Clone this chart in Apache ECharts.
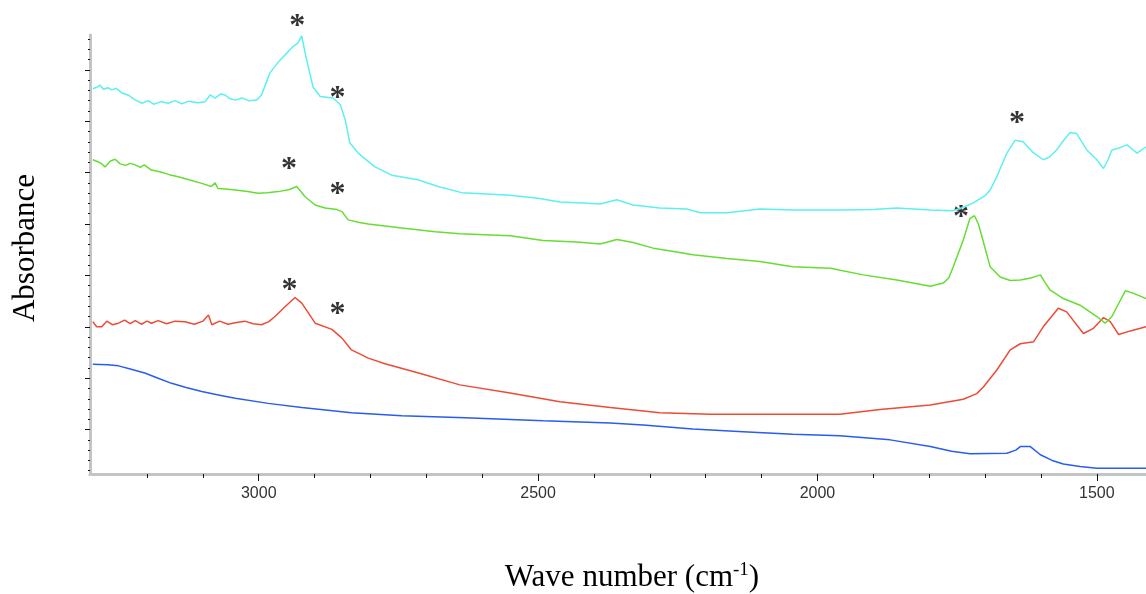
<!DOCTYPE html>
<html>
<head>
<meta charset="utf-8">
<script src="https://cdn.jsdelivr.net/npm/echarts@6/dist/echarts.min.js"></script>
<style>
html,body{margin:0;padding:0;background:#fff;}
#chart{width:1146px;height:594px;}
</style>
</head>
<body>
<div id="chart"></div>
<script>
// Wave number (cm-1), absorbance (arbitrary units, offset traces)
const cyanData = [[3297,0.763],[3290,0.766],[3284,0.770],[3278,0.762],[3270,0.765],[3263,0.761],[3255,0.764],[3245,0.755],[3232,0.750],[3222,0.742],[3209,0.735],[3198,0.740],[3188,0.733],[3175,0.738],[3162,0.735],[3150,0.740],[3138,0.734],[3125,0.739],[3110,0.736],[3096,0.738],[3087,0.751],[3078,0.745],[3068,0.753],[3060,0.751],[3052,0.744],[3042,0.741],[3030,0.745],[3018,0.740],[3004,0.741],[2995,0.751],[2980,0.794],[2965,0.815],[2953,0.829],[2939,0.845],[2930,0.852],[2923,0.866],[2917,0.833],[2910,0.800],[2903,0.767],[2890,0.748],[2867,0.745],[2854,0.732],[2845,0.702],[2837,0.658],[2822,0.638],[2792,0.611],[2762,0.595],[2715,0.586],[2679,0.573],[2637,0.561],[2600,0.559],[2550,0.556],[2500,0.550],[2461,0.543],[2420,0.541],[2389,0.539],[2359,0.547],[2330,0.537],[2282,0.531],[2234,0.529],[2210,0.522],[2162,0.522],[2130,0.526],[2103,0.529],[2044,0.527],[1960,0.527],[1900,0.528],[1858,0.531],[1798,0.527],[1757,0.526],[1740,0.532],[1721,0.541],[1700,0.555],[1691,0.566],[1679,0.592],[1661,0.638],[1646,0.663],[1632,0.660],[1615,0.640],[1596,0.625],[1585,0.630],[1572,0.644],[1560,0.662],[1548,0.678],[1536,0.676],[1518,0.644],[1500,0.625],[1488,0.608],[1480,0.625],[1473,0.644],[1460,0.648],[1446,0.654],[1436,0.645],[1428,0.638],[1412,0.650]];

const greenData = [[3297,0.625],[3290,0.622],[3282,0.618],[3275,0.611],[3266,0.622],[3257,0.626],[3248,0.617],[3238,0.614],[3230,0.618],[3221,0.615],[3212,0.610],[3205,0.615],[3192,0.605],[3175,0.601],[3160,0.596],[3144,0.592],[3125,0.586],[3102,0.579],[3085,0.573],[3078,0.580],[3073,0.569],[3060,0.568],[3042,0.566],[3020,0.563],[3001,0.560],[2985,0.561],[2965,0.563],[2945,0.567],[2932,0.573],[2917,0.553],[2899,0.537],[2881,0.531],[2860,0.528],[2851,0.524],[2840,0.508],[2820,0.503],[2804,0.500],[2744,0.492],[2684,0.485],[2640,0.481],[2550,0.477],[2491,0.468],[2430,0.465],[2389,0.461],[2359,0.470],[2330,0.464],[2294,0.453],[2260,0.447],[2223,0.440],[2162,0.433],[2103,0.427],[2044,0.417],[1977,0.414],[1918,0.401],[1858,0.391],[1798,0.379],[1775,0.385],[1765,0.395],[1757,0.417],[1739,0.469],[1727,0.511],[1719,0.516],[1712,0.500],[1704,0.469],[1691,0.417],[1673,0.397],[1655,0.390],[1637,0.391],[1618,0.395],[1601,0.401],[1592,0.385],[1584,0.372],[1560,0.355],[1530,0.342],[1500,0.320],[1485,0.307],[1473,0.320],[1464,0.339],[1449,0.370],[1434,0.365],[1412,0.355]];

const redData = [[3297,0.310],[3290,0.300],[3281,0.300],[3272,0.311],[3262,0.304],[3251,0.307],[3240,0.313],[3230,0.306],[3221,0.312],[3210,0.305],[3200,0.311],[3192,0.307],[3180,0.312],[3165,0.306],[3150,0.311],[3132,0.310],[3115,0.305],[3100,0.311],[3090,0.323],[3084,0.304],[3070,0.311],[3055,0.305],[3042,0.308],[3025,0.311],[3010,0.306],[2995,0.304],[2982,0.310],[2971,0.320],[2953,0.339],[2935,0.357],[2923,0.346],[2910,0.325],[2899,0.307],[2869,0.295],[2851,0.278],[2834,0.255],[2804,0.239],[2774,0.228],[2714,0.210],[2640,0.187],[2550,0.171],[2461,0.154],[2371,0.143],[2282,0.133],[2192,0.130],[2103,0.130],[1960,0.130],[1888,0.139],[1798,0.148],[1739,0.159],[1715,0.170],[1703,0.183],[1679,0.216],[1655,0.255],[1637,0.267],[1613,0.271],[1596,0.300],[1569,0.336],[1554,0.329],[1524,0.287],[1506,0.297],[1488,0.318],[1476,0.310],[1461,0.285],[1440,0.292],[1412,0.300]];

const blueData = [[3297,0.227],[3270,0.226],[3251,0.224],[3230,0.218],[3204,0.210],[3180,0.200],[3156,0.190],[3130,0.182],[3102,0.174],[3070,0.167],[3042,0.161],[2983,0.151],[2923,0.143],[2834,0.133],[2744,0.127],[2631,0.123],[2491,0.117],[2371,0.113],[2312,0.109],[2223,0.101],[2133,0.096],[2044,0.091],[1960,0.088],[1870,0.080],[1798,0.067],[1760,0.058],[1727,0.053],[1661,0.054],[1645,0.060],[1637,0.067],[1619,0.067],[1601,0.051],[1580,0.040],[1560,0.033],[1530,0.028],[1500,0.025],[1412,0.025]];

// peak markers (*)
const starMarks = [[2931,0.893],[2859,0.753],[1643,0.704],[2946,0.615],[2859,0.566],[1743,0.521],[2945,0.380],[2859,0.333]];

const xMajorTicks = [1500,2000,2500,3000];
const xMinorTicks = [1600,1700,1800,1900,2100,2200,2300,2400,2600,2700,2800,2900,3100,3200];
const yMajorTicks = [0.1,0.2,0.3,0.4,0.5,0.6,0.7,0.8];
const yMinorTicks = [0.02,0.04,0.06,0.08,0.12,0.14,0.16,0.18,0.22,0.24,0.26,0.28,0.32,0.34,0.36,0.38,0.42,0.44,0.46,0.48,0.52,0.54,0.56,0.58,0.62,0.64,0.66,0.68,0.72,0.74,0.76,0.78,0.82,0.84,0.86];

const X_MIN = 1412, X_MAX = 3302, Y_MIN = 0.0136, Y_MAX = 0.8677;

const chart = echarts.init(document.getElementById('chart'), null, {renderer:'canvas'});

function lineSeries(data, color){
  return {type:'line', data:data, showSymbol:false, symbol:'none', smooth:false,
    lineStyle:{color:color, width:1.5}, silent:true, animation:false};
}

const option = {
  animation:false,
  backgroundColor:'#ffffff',
  grid:{left:90, right:0, top:35, bottom:120, containLabel:false, outerBoundsMode:'none'},
  xAxis:[
    {type:'value', inverse:true, min:X_MIN, max:X_MAX, position:'bottom',
     axisLine:{show:true, lineStyle:{color:'#c4c4c4', width:3}},
     axisTick:{show:true, customValues:xMajorTicks, length:7, lineStyle:{color:'#111', width:1}},
     axisLabel:{show:true, customValues:xMajorTicks, margin:12, fontSize:16, color:'#333', fontFamily:'Liberation Sans',
       formatter:function(v){return String(v);}},
     splitLine:{show:false}},
    {type:'value', inverse:true, min:X_MIN, max:X_MAX, position:'bottom', offset:0,
     axisLine:{show:false},
     axisTick:{show:true, customValues:xMinorTicks, length:4, lineStyle:{color:'#111', width:1}},
     axisLabel:{show:false}, splitLine:{show:false}}
  ],
  yAxis:[
    {type:'value', min:Y_MIN, max:Y_MAX, position:'left',
     axisLine:{show:true, lineStyle:{color:'#c4c4c4', width:3}},
     axisTick:{show:true, customValues:yMajorTicks, length:5, lineStyle:{color:'#111', width:1}},
     axisLabel:{show:false}, splitLine:{show:false}},
    {type:'value', min:Y_MIN, max:Y_MAX, position:'left', offset:0,
     axisLine:{show:false},
     axisTick:{show:true, customValues:yMinorTicks, length:2, lineStyle:{color:'#111', width:1}},
     axisLabel:{show:false}, splitLine:{show:false}}
  ],
  series:[
    lineSeries(blueData, '#2a5cf0'),
    lineSeries(redData, '#ee4a36'),
    lineSeries(greenData, '#66dd33'),
    lineSeries(cyanData, '#5cf0f0'),
    {type:'scatter', data:starMarks, symbolSize:1, clip:false, silent:true,
     itemStyle:{color:'rgba(0,0,0,0)'},
     label:{show:true, formatter:'*', position:'inside', offset:[0,5],
       fontSize:32, fontWeight:'bold', fontFamily:'Liberation Serif', color:'#000'}}
  ],
  graphic:[
    {type:'text', x:26, y:248, rotation:Math.PI/2,
     style:{text:'Absorbance', font:'31px "Liberation Serif"', fill:'#000', align:'center', verticalAlign:'middle'}},
    {type:'text', x:632, y:578,
     style:{text:'{a|Wave number (cm}{s|-1}{a|)}', align:'center', verticalAlign:'middle', fill:'#000',
       rich:{a:{fontSize:31, fontFamily:'Liberation Serif', color:'#000', lineHeight:34},
             s:{fontSize:19, fontFamily:'Liberation Serif', color:'#000', verticalAlign:'top', lineHeight:34}}}}
  ]
};
chart.setOption(option);
</script>
</body>
</html>
